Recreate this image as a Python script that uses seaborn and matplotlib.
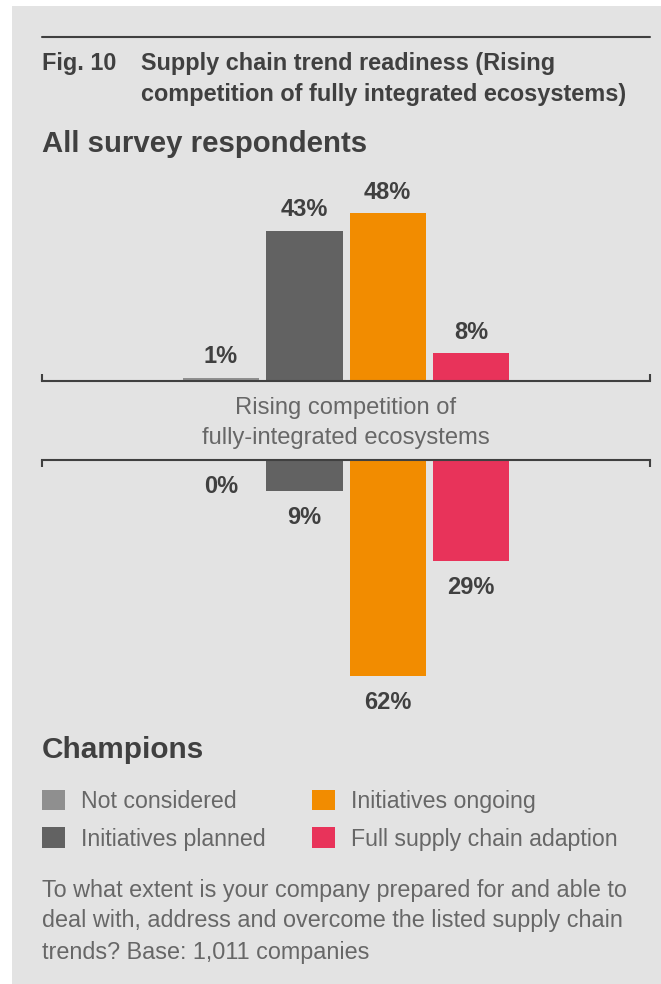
import matplotlib
matplotlib.use("Agg")
import matplotlib.pyplot as plt
from matplotlib.patches import Rectangle, Patch
from matplotlib.lines import Line2D
import seaborn as sns
import pandas as pd

# ---------------- data ----------------
categories = ["Not considered", "Initiatives planned", "Initiatives ongoing",
              "Full supply chain adaption"]
all_respondents = [1, 43, 48, 8]
champions = [0, 9, 62, 29]
colors = ["#8f8f8f", "#626262", "#f28c00", "#e8335a"]

fig_number = "Fig. 10"
title_lines = ["Supply chain trend readiness (Rising",
               "competition of fully integrated ecosystems)"]
subtitle_top = "All survey respondents"
subtitle_bottom = "Champions"
center_label = ["Rising competition of", "fully-integrated ecosystems"]
footer_lines = ["To what extent is your company prepared for and able to",
                "deal with, address and overcome the listed supply chain",
                "trends? Base: 1,011 companies"]

# ---------------- style ----------------
sns.set_theme(style="white")
plt.rcParams['font.family'] = ['Liberation Sans', 'DejaVu Sans']

W, H = 661, 984
fig = plt.figure(figsize=(W / 100, H / 100), dpi=100, facecolor='white')


def fx(px):
    return px / W


def fy(py):
    return 1 - py / H


DARK = '#404040'
MID = '#676767'
LW = 1.5

# background panel
fig.add_artist(Rectangle((fx(12), 0), 1 - fx(12), fy(6), transform=fig.transFigure,
                         facecolor='#e3e3e3', edgecolor='none', zorder=0))
# top rule
fig.add_artist(Line2D([fx(42), fx(650)], [fy(37), fy(37)], transform=fig.transFigure,
                      color=DARK, lw=LW))

# titles
TS = 16.9
fig.text(fx(42), fy(70), fig_number, fontsize=TS, fontweight='bold', color=DARK,
         ha='left', va='baseline')
fig.text(fx(141), fy(70), title_lines[0], fontsize=TS, fontweight='bold', color=DARK,
         ha='left', va='baseline')
fig.text(fx(141), fy(101), title_lines[1], fontsize=TS, fontweight='bold', color=DARK,
         ha='left', va='baseline')
fig.text(fx(42), fy(152), subtitle_top, fontsize=21.2, fontweight='bold', color=DARK,
         ha='left', va='baseline')
fig.text(fx(42), fy(758), subtitle_bottom, fontsize=21.4, fontweight='bold', color=DARK,
         ha='left', va='baseline')

# ---------------- bar axes ----------------
PX_PER_PCT = 3.5
XL = (-2.148, 5.148)
BAR_W = 0.916


def draw(ax, values, top):
    df = pd.DataFrame({"category": categories, "value": values})
    sns.barplot(data=df, x="category", y="value", hue="category", order=categories,
                hue_order=categories, palette=colors, saturation=1, width=BAR_W,
                legend=False, linewidth=0, ax=ax)
    ax.set_facecolor('none')
    ax.set_xlim(*XL)
    ax.set_xlabel('')
    ax.set_ylabel('')
    ax.set_yticks([])
    ax.set_xticks(list(XL))
    ax.set_xticklabels(['', ''])
    for s in ax.spines.values():
        s.set_visible(False)
    if top:
        ax.spines['bottom'].set_visible(True)
        ax.spines['bottom'].set_color(DARK)
        ax.spines['bottom'].set_linewidth(LW)
        ax.tick_params(axis='x', which='both', bottom=True, top=False, direction='in',
                       length=5, width=LW, color=DARK, labelbottom=False)
    else:
        ax.spines['top'].set_visible(True)
        ax.spines['top'].set_color(DARK)
        ax.spines['top'].set_linewidth(LW)
        ax.xaxis.set_ticks_position('top')
        ax.tick_params(axis='x', which='both', bottom=False, top=True, direction='in',
                       length=5, width=LW, color=DARK, labeltop=False, labelbottom=False)
    for i, v in enumerate(values):
        ax.annotate(f"{v}%", xy=(i, v), xytext=(0, 10.3 if top else -23.5),
                    textcoords='offset points', ha='center', va='baseline',
                    fontsize=17, fontweight='bold', color=DARK, annotation_clip=False)


ax_top = fig.add_axes([fx(42), fy(381), fx(650) - fx(42), (381 - 165) / H])
draw(ax_top, all_respondents, True)
ax_top.set_ylim(0, (381 - 165) / PX_PER_PCT)

ax_bot = fig.add_axes([fx(42), fy(725), fx(650) - fx(42), (725 - 460) / H])
draw(ax_bot, champions, False)
ax_bot.set_ylim((725 - 460) / 3.49, 0)

# center category label
fig.text(fx(346), fy(414), center_label[0], fontsize=17.1, color=MID, ha='center', va='baseline')
fig.text(fx(346), fy(444), center_label[1], fontsize=17.1, color=MID, ha='center', va='baseline')

# ---------------- legends ----------------
FS = 16.7
leg_kw = dict(loc='upper left', frameon=False, borderpad=0, borderaxespad=0,
              fontsize=FS, handlelength=1.0, handleheight=0.97, handletextpad=0.66,
              labelspacing=0.62, labelcolor=MID)
h = [Patch(facecolor=c, edgecolor='none', label=l) for c, l in zip(colors, categories)]
leg1 = fig.legend(handles=h[:2], bbox_to_anchor=(fx(42), fy(790)), **leg_kw)
leg2 = fig.legend(handles=h[2:], bbox_to_anchor=(fx(312), fy(790)), **leg_kw)

# footer
for line, yb in zip(footer_lines, [896.5, 927.5, 958.5]):
    fig.text(fx(42), fy(yb), line, fontsize=16.8, color=MID, ha='left', va='baseline')

fig.savefig("out.png", dpi=100, facecolor='white')
